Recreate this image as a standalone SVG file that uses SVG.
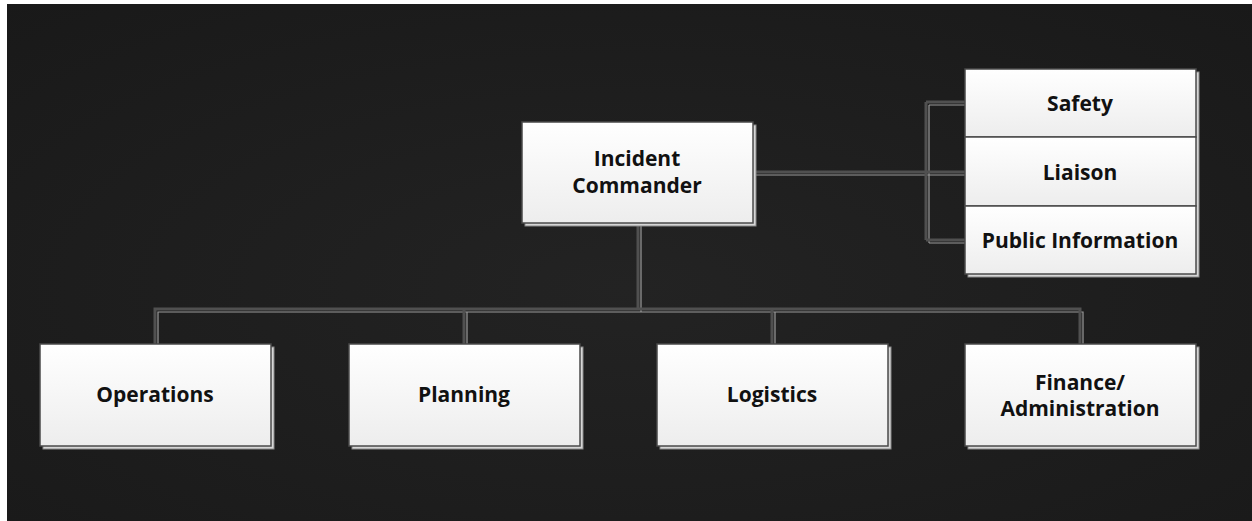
<svg xmlns="http://www.w3.org/2000/svg" width="1252" height="521" viewBox="0 0 1252 521">
<defs>
<radialGradient id="bg" cx="0.5" cy="0.55" r="0.75">
<stop offset="0" stop-color="#232323"/>
<stop offset="1" stop-color="#191919"/>
</radialGradient>
<linearGradient id="box" x1="0" y1="0" x2="0" y2="1">
<stop offset="0" stop-color="#ffffff"/>
<stop offset="1" stop-color="#ededed"/>
</linearGradient>
<style>
.shadow{fill:#d6d6d6;stroke:#8a8a8a;stroke-width:1}
.box{fill:url(#box);stroke:#4a4a4a;stroke-width:1.5}
.lbl{font-family:"Open Sans","Noto Sans","Liberation Sans",sans-serif;font-weight:700;font-size:21px;fill:#111111;text-anchor:middle;dominant-baseline:central}
.wire{fill:none;stroke:#505050;stroke-width:3}
.wire2{fill:none;stroke:#9a9a9a;stroke-width:1.2}
</style>
</defs>
<rect x="0" y="0" width="1252" height="521" fill="#ffffff"/>
<rect x="7" y="4" width="1245" height="517" fill="url(#bg)"/>
<g id="connectors">
<path class="wire2" d="M641,222 V312 M158,348 V312 H1083 V348 M467,312 V348 M775,312 V348 M752,175 H968 M929,105 V243 M929,105 H968 M929,243 H968"/>
<path class="wire" d="M638,222 V309 M155,344 V309 H1080 V344 M464,309 V344 M772,309 V344 M752,172 H965 M926,102 V240 M926,102 H965 M926,240 H965"/>
</g>
<g id="incident-commander">
<rect class="shadow" x="525" y="125" width="231" height="101"/>
<rect class="box" x="522" y="122" width="231" height="101"/>
<text class="lbl" x="637" y="158">Incident</text>
<text class="lbl" x="637" y="185">Commander</text>
</g>
<g id="command-staff">
<rect class="shadow" x="968" y="72" width="231" height="205"/>
<g id="safety">
<rect class="box" x="965" y="69" width="231" height="68"/>
<text class="lbl" x="1080" y="103">Safety</text>
</g>
<g id="liaison">
<rect class="box" x="965" y="137" width="231" height="69"/>
<text class="lbl" x="1080" y="172">Liaison</text>
</g>
<g id="public-information">
<rect class="box" x="965" y="206" width="231" height="68"/>
<text class="lbl" x="1080" y="240">Public Information</text>
</g>
</g>
<g id="operations">
<rect class="shadow" x="43" y="347" width="231" height="102"/>
<rect class="box" x="40" y="344" width="231" height="102"/>
<text class="lbl" x="155" y="394">Operations</text>
</g>
<g id="planning">
<rect class="shadow" x="352" y="347" width="231" height="102"/>
<rect class="box" x="349" y="344" width="231" height="102"/>
<text class="lbl" x="464" y="394">Planning</text>
</g>
<g id="logistics">
<rect class="shadow" x="660" y="347" width="231" height="102"/>
<rect class="box" x="657" y="344" width="231" height="102"/>
<text class="lbl" x="772" y="394">Logistics</text>
</g>
<g id="finance-administration">
<rect class="shadow" x="968" y="347" width="231" height="102"/>
<rect class="box" x="965" y="344" width="231" height="102"/>
<text class="lbl" x="1080" y="382">Finance/</text>
<text class="lbl" x="1080" y="408">Administration</text>
</g>
</svg>
